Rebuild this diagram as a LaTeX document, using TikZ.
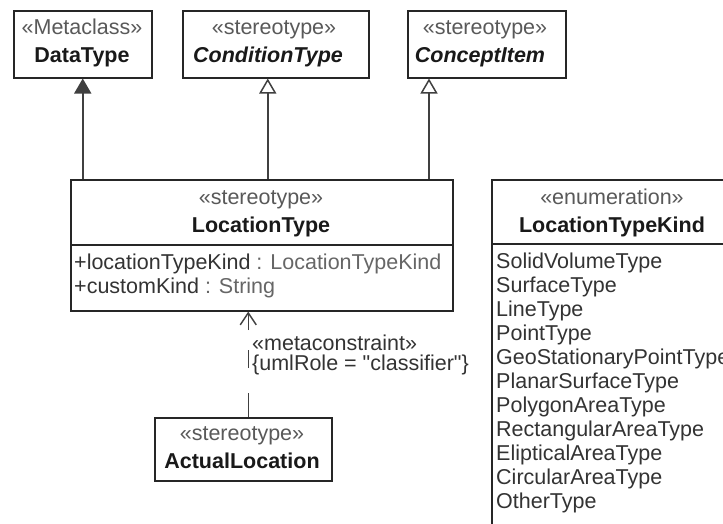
\documentclass[tikz,border=0pt]{standalone}
\usepackage{fontspec}
\setmainfont{Liberation Sans}[Ligatures=TeXOff]
\usetikzlibrary{arrows.meta,positioning}

\tikzset{
  umlbox/.style={draw=black!85, line width=1.5pt, fill=white, anchor=north west, inner sep=0pt},
  txt/.style={inner sep=0pt, text height=15pt, text depth=4pt, font=\fontsize{21.5}{24}\selectfont},
  stereo/.style={txt, text=black!65},
  cname/.style={txt, text=black!90, font=\fontsize{21.5}{24}\selectfont\bfseries},
  lit/.style={txt, text=black!80, anchor=west},
  gen/.style={draw=black!75, line width=1.5pt},
  dep/.style={draw=black!75, line width=1.5pt, dash pattern=on 24pt off 25pt on 18pt off 20pt}
}

\begin{document}
\begin{tikzpicture}[x=1pt, y=-1pt, node distance=28pt]
  \useasboundingbox (0,0) rectangle (723,523);
  \clip (0,0) rectangle (723,523);
  % top row
  \node[umlbox, minimum width=138pt, minimum height=67pt] (dt) at (13,10) {};
  \node[stereo] (dts) at (82,29) {«Metaclass»};
  \node[cname] (dtn)[below of=dts] {DataType};
  \node[umlbox, minimum width=186pt, minimum height=67pt] (cd) at (182,10) {};
  \node[stereo] (cds) at (274,29) {«stereotype»};
  \node[cname] (cdn) at (268,57) {\textit{ConditionType}};
  \node[umlbox, minimum width=158pt, minimum height=67pt] (ci) at (407,10) {};
  \node[stereo] (cis) at (485,29) {«stereotype»};
  \node[cname] (cin) at (480,57) {\textit{ConceptItem}};
  % LocationType
  \node[umlbox, minimum width=382pt, minimum height=131pt] (lt) at (70,179) {};
  \node[stereo] (lts) at (261,199) {«stereotype»};
  \node[cname] (ltn)[below of=lts] {LocationType};
  \draw[draw=black!85, line width=1.5pt] (lt.west |- 0,245) -- (lt.east |- 0,245);
  \node[lit] (a1) at (74,264) {+locationTypeKind \textcolor{black!60}{: LocationTypeKind}};
  \node[lit] (a2) at (74,288) {+customKind \textcolor{black!60}{: String}};
  % enumeration
  \node[umlbox, minimum width=241pt, minimum height=361pt] (en) at (491,179) {};
  \node[stereo] (ens) at (612,199) {«enumeration»};
  \node[cname] (enn)[below of=ens] {LocationTypeKind};
  \draw[draw=black!85, line width=1.5pt] (en.west |- 0,244) -- (en.east |- 0,244);
  \foreach \k [count=\i from 0] in {SolidVolumeType, SurfaceType, LineType, PointType,
      GeoStationaryPointType, PlanarSurfaceType, PolygonAreaType, RectangularAreaType,
      ElipticalAreaType, CircularAreaType, OtherType}
    \node[lit] (k\i) at (496,263+24*\i) {\k};
  % ActualLocation
  \node[umlbox, minimum width=177pt, minimum height=63pt] (al) at (154,417) {};
  \node[stereo] (als) at (242,435) {«stereotype»};
  \node[cname] (aln)[below of=als] {ActualLocation};
  % connectors
  \coordinate (cdb) at ([xshift=-8pt]cd.south);
  \coordinate (cib) at ([xshift=22pt]ci.south west);
  \coordinate (alt) at ([xshift=5pt]al.north);
  \draw[gen, -{Triangle[length=15pt, width=17pt, fill=black!75]}] (dt.south |- lt.north) -- (dt.south);
  \draw[gen, -{Triangle[open, length=15pt, width=17pt, fill=white]}] (cdb |- lt.north) -- (cdb);
  \draw[gen, -{Triangle[open, length=15pt, width=17pt, fill=white]}] (cib |- lt.north) -- (cib);
  \draw[dep, -{Straight Barb[length=12pt, width=16pt]}] (alt) -- (alt |- lt.south);
  \node[lit] (mc1) at (252,345) {«metaconstraint»};
  \node[lit] (mc2) at (252,365) {\{umlRole = "classifier"\}};
\end{tikzpicture}
\end{document}
